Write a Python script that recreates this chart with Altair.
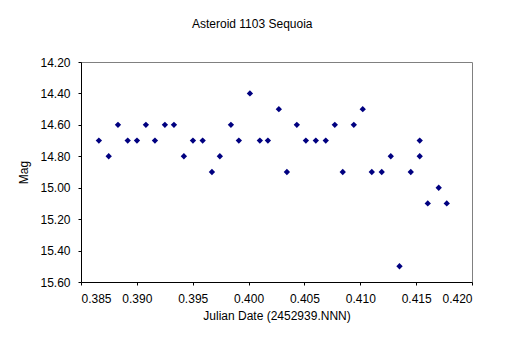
import altair as alt
import pandas as pd

jd = [0.3866, 0.38748, 0.38831, 0.38918, 0.39001, 0.39081, 0.39162, 0.39251,
      0.39332, 0.39421, 0.39502, 0.39589, 0.39672, 0.39743, 0.39842, 0.39913,
      0.40012, 0.40101, 0.40173, 0.40271, 0.40343, 0.40432, 0.40513, 0.40602,
      0.40691, 0.40772, 0.40843, 0.40942, 0.41022, 0.41103, 0.41192, 0.41273,
      0.41351, 0.41452, 0.41532, 0.41532, 0.41604, 0.41702, 0.41774]
mag = [14.70, 14.80, 14.60, 14.70, 14.70, 14.60, 14.70, 14.60,
       14.60, 14.80, 14.70, 14.70, 14.90, 14.80, 14.60, 14.70,
       14.40, 14.70, 14.70, 14.50, 14.90, 14.60, 14.70, 14.70,
       14.70, 14.60, 14.90, 14.60, 14.50, 14.90, 14.90, 14.80,
       15.50, 14.90, 14.70, 14.80, 15.10, 15.00, 15.10]

x_ticks = [0.385, 0.390, 0.395, 0.400, 0.405, 0.410, 0.415, 0.420]
y_ticks = [14.20, 14.40, 14.60, 14.80, 15.00, 15.20, 15.40, 15.60]

df = pd.DataFrame({"jd": jd, "mag": mag})

font = "Liberation Sans"

chart = alt.Chart(df).mark_point(
    shape="diamond", filled=True, color="#000080", size=40, opacity=1
).encode(
    x=alt.X("jd:Q", title="Julian Date (2452939.NNN)",
            scale=alt.Scale(domain=[0.385, 0.420], nice=False, zero=False),
            axis=alt.Axis(values=x_ticks, format=".3f", grid=False,
                          domainColor="black", tickColor="black", tickSize=3,
                          labelPadding=8, titlePadding=6)),
    y=alt.Y("mag:Q", title="Mag",
            scale=alt.Scale(domain=[14.2, 15.6], reverse=True, nice=False, zero=False),
            axis=alt.Axis(values=y_ticks, format=".2f", grid=False,
                          domainColor="black", tickColor="black", tickSize=3,
                          labelPadding=8, titlePadding=9)),
).properties(
    width=391, height=220,
    title=alt.TitleParams("Asteroid 1103 Sequoia", frame="bounds", anchor="middle",
                          font=font, fontSize=12, fontWeight="normal",
                          color="black", offset=25, dx=7),
    autosize=alt.AutoSizeParams(type="none"),
    padding={"left": 81, "top": 62, "right": 33, "bottom": 70},
).configure_view(
    stroke="#808080", strokeWidth=1
).configure_axis(
    labelFont=font, titleFont=font, labelFontSize=12, titleFontSize=12,
    labelColor="black", titleColor="black", titleFontWeight="normal",
    domainWidth=1, tickWidth=1
)

chart.save("out.html", embed_options={"renderer": "svg", "actions": False})
